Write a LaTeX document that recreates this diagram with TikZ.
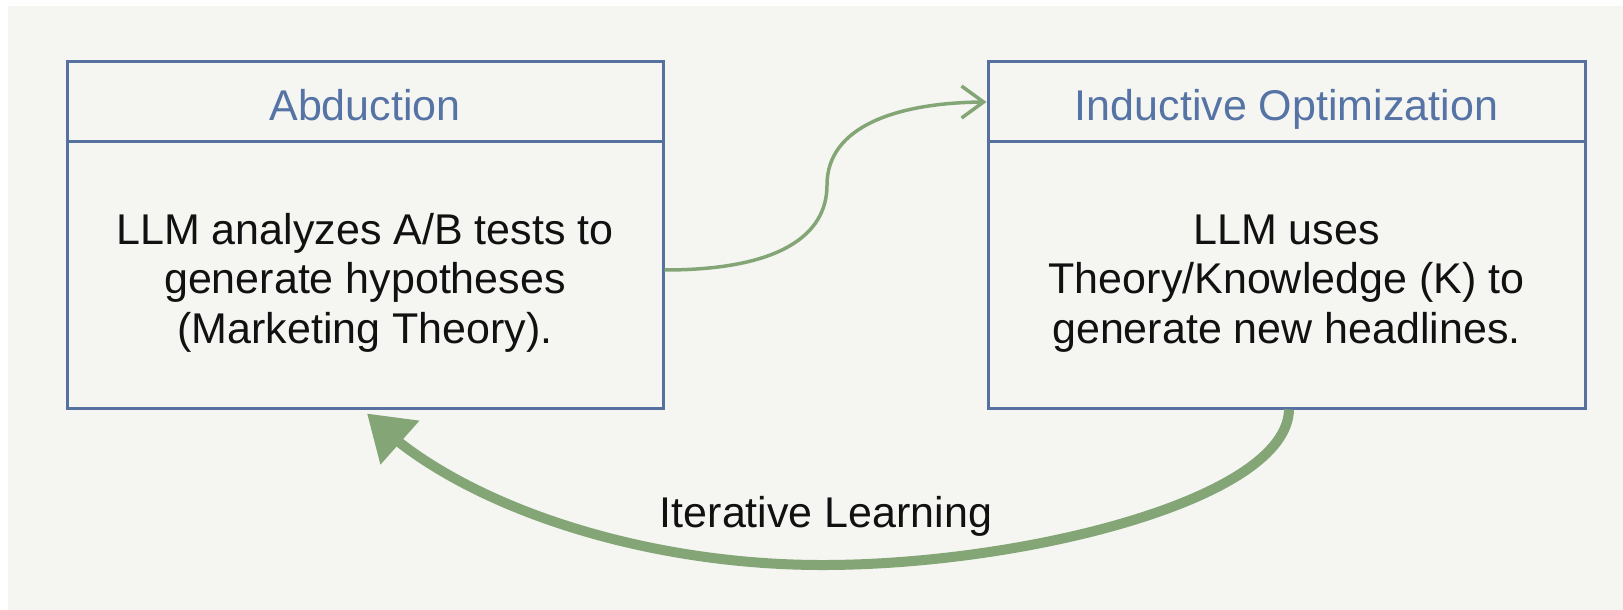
\documentclass[tikz,border=0pt]{standalone}
\usepackage{fontspec}
\setmainfont{Liberation Sans}
\usetikzlibrary{arrows.meta,bending}
\definecolor{bgc}{HTML}{F5F6F2}
\definecolor{boxc}{HTML}{5671A0}
\definecolor{titlec}{HTML}{5673A6}
\definecolor{arrowc}{HTML}{84A676}
\definecolor{textc}{HTML}{111111}
\tikzset{
  panel/.style={draw=boxc, line width=3pt, inner sep=0pt, minimum width=596pt, minimum height=346pt},
  divider/.style={draw=boxc, line width=3pt},
  titletext/.style={text=titlec, font=\fontsize{43}{49.5}\selectfont, anchor=base, inner sep=0pt},
  bodytext/.style={text=textc, font=\fontsize{43}{49.5}\selectfont, align=center, anchor=base, inner sep=0pt},
  labeltext/.style={text=textc, font=\fontsize{43}{49.5}\selectfont, anchor=base, inner sep=0pt},
  thinarrow/.style={draw=arrowc, line width=3.5pt, -{Straight Barb[length=22pt,width=32pt]}},
  thickarrow/.style={draw=arrowc, line width=10pt, -{Triangle[length=44pt,width=56pt]}}
}
\begin{document}
\begin{tikzpicture}[x=1pt,y=-1pt]
\useasboundingbox (0,0) rectangle (1623,610);
\fill[white] (0,0) rectangle (1623,610);
\fill[bgc] (8,6) rectangle (1623,610);

\node[panel] (b1) at (365,235) {};
\node[panel, minimum width=597pt] (b2) at (1286.5,235) {};
\draw[divider] ([yshift=-81pt]b1.north west) -- ([yshift=-81pt]b1.north east);
\draw[divider] ([yshift=-81pt]b2.north west) -- ([yshift=-81pt]b2.north east);

\node[titletext] (t1) at (365,120) {Abduction};
\node[titletext] (t2) at (1286.5,120) {Inductive Optimization};

\node[bodytext] (x1) at (365,343) {LLM analyzes A/B tests to\\generate hypotheses\\(Marketing Theory).};
\node[bodytext] (x2) at (1286.5,343) {LLM uses\\Theory/Knowledge (K) to\\generate new headlines.};

\coordinate (s1) at ([yshift=-35pt]b1.east);
\coordinate (e1) at ([yshift=133pt]b2.west);
\draw[thinarrow] (s1) .. controls (780,270) and (827,235) .. (827,185)
  .. controls (827,125) and (900,102) .. (e1);

\coordinate (s2) at ([xshift=2.5pt]b2.south);
\coordinate (e2) at ([shift={(2pt,-4pt)}]b1.south);
\draw[thickarrow] (s2) .. controls (1287,500) and (1020,566) .. (818,565)
  .. controls (630,564) and (450,500) .. (e2);

\node[labeltext] (lab) at (826,527) {Iterative Learning};
\end{tikzpicture}
\end{document}
